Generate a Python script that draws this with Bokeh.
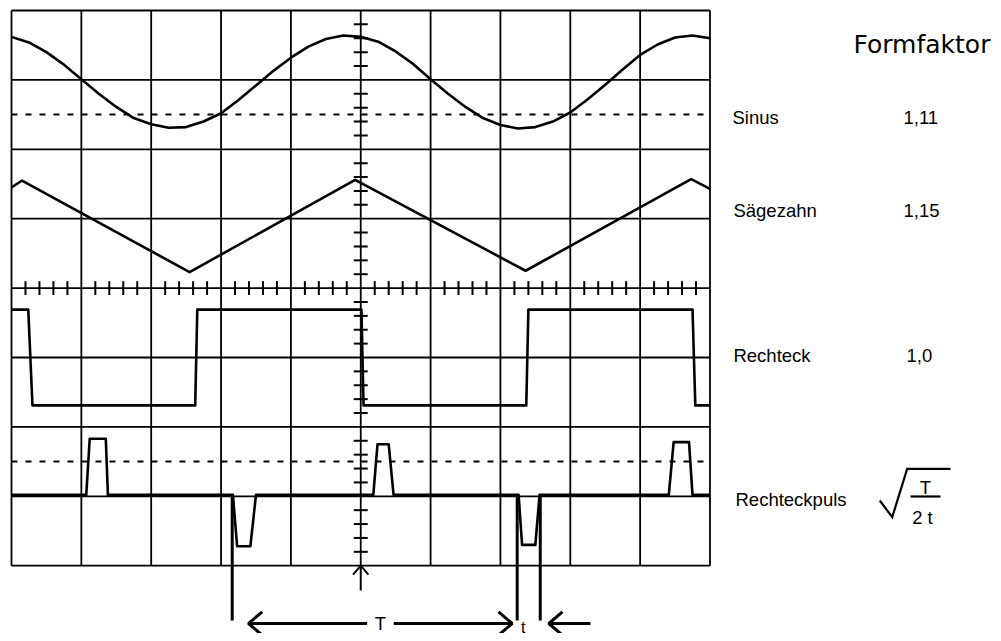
from bokeh.plotting import figure
from bokeh.models import Range1d, Label
from bokeh.embed import file_html
from bokeh.resources import INLINE

# ---------------- data (screen divisions) ----------------
sine_x = [0.0, 0.25, 0.5, 0.75, 1.0, 1.25, 1.5, 1.75, 2.0, 2.25, 2.5, 2.75, 3.0, 3.25,
          3.5, 3.75, 4.0, 4.25, 4.5, 4.75, 5.0, 5.25, 5.5, 5.75, 6.0, 6.25, 6.5, 6.75,
          7.0, 7.25, 7.5, 7.75, 8.0, 8.25, 8.5, 8.75, 9.0, 9.25, 9.5, 9.75, 10.0]
sine_y = [7.62, 7.54, 7.40, 7.22, 7.01, 6.80, 6.61, 6.45, 6.36, 6.31, 6.32, 6.40, 6.52, 6.71,
          6.92, 7.13, 7.32, 7.48, 7.59, 7.64, 7.62, 7.55, 7.41, 7.23, 7.01, 6.80, 6.61, 6.45,
          6.35, 6.30, 6.32, 6.40, 6.53, 6.72, 6.93, 7.15, 7.36, 7.51, 7.61, 7.64, 7.60]

saw_x = [0.0, 0.15, 2.55, 4.92, 7.36, 9.73, 10.0]
saw_y = [5.45, 5.55, 4.23, 5.56, 4.25, 5.57, 5.43]

rect_x = [0.0, 0.24, 0.30, 2.63, 2.66, 5.01, 5.04, 7.37, 7.40, 9.75, 9.79, 10.0]
rect_y = [3.69, 3.69, 2.31, 2.31, 3.69, 3.69, 2.31, 2.31, 3.69, 3.69, 2.31, 2.31]

puls_x = [0.0, 1.07, 1.12, 1.35, 1.38, 3.17, 3.23, 3.42, 3.50, 5.18, 5.24, 5.40, 5.47,
          7.26, 7.31, 7.50, 7.56, 9.41, 9.48, 9.70, 9.75, 10.0]
puls_y = [1.02, 1.02, 1.83, 1.83, 1.02, 1.02, 0.28, 0.28, 1.02, 1.02, 1.75, 1.75, 1.02,
          1.02, 0.30, 0.30, 1.02, 1.02, 1.78, 1.78, 1.02, 1.02]

dashed_levels = [6.5, 1.5]
marker_x = [3.16, 7.24, 7.57]

names = ["Sinus", "Sägezahn", "Rechteck", "Rechteckpuls"]
factors = ["1,11", "1,15", "1,0"]

# ---------------- figure ----------------
p = figure(width=993, height=633, output_backend="svg", toolbar_location=None,
           x_range=Range1d(-0.1575, 14.059), y_range=Range1d(-0.977, 8.144),
           x_axis_type=None, y_axis_type=None, min_border=0)
p.min_border_left = p.min_border_right = p.min_border_top = p.min_border_bottom = 0
p.outline_line_color = None
p.xgrid.visible = False
p.ygrid.visible = False
p.background_fill_color = "white"
p.border_fill_color = "white"

K = "black"

# screen grid 10 x 8
gx = list(range(11))
gy = list(range(9))
p.segment(x0=gx, y0=[0] * len(gx), x1=gx, y1=[8] * len(gx), line_color=K, line_width=1.8)
p.segment(x0=[0] * len(gy), y0=gy, x1=[10] * len(gy), y1=gy, line_color=K, line_width=1.8)

# center axes with minor ticks
tx = [k * 0.2 for k in range(1, 50) if k % 5 != 0]
ty = [k * 0.2 for k in range(1, 40) if k % 5 != 0]
p.segment(x0=tx, y0=[3.9] * len(tx), x1=tx, y1=[4.1] * len(tx), line_color=K, line_width=2)
p.segment(x0=[4.9] * len(ty), y0=ty, x1=[5.1] * len(ty), y1=ty, line_color=K, line_width=2)

# dashed reference lines
for lv in dashed_levels:
    p.line([0, 10], [lv, lv], line_color=K, line_width=2, line_dash="6 8")

# traces
for xs, ys in [(sine_x, sine_y), (saw_x, saw_y), (rect_x, rect_y), (puls_x, puls_y)]:
    p.line(xs, ys, line_color=K, line_width=2.6, line_join="round")

# measuring marker lines below the pulse train
p.segment(x0=marker_x, y0=[1.02] * 3, x1=marker_x, y1=[-0.79] * 3, line_color=K, line_width=3)

# T arrows
ay = -0.833
p.line([3.393, 5.092], [ay, ay], line_color=K, line_width=3)
p.line([3.589, 3.393, 3.589], [ay + 0.168, ay, ay - 0.168], line_color=K, line_width=3)
p.line([5.473, 7.168], [ay, ay], line_color=K, line_width=3)
p.line([6.972, 7.168, 6.972], [ay + 0.168, ay, ay - 0.168], line_color=K, line_width=3)
p.line([7.692, 8.289], [ay, ay], line_color=K, line_width=3)
p.line([7.888, 7.692, 7.888], [ay + 0.168, ay, ay - 0.168], line_color=K, line_width=3)

# trigger arrow at screen bottom centre
p.line([5.0, 5.0], [0.0, -0.357], line_color=K, line_width=2)
p.line([4.89, 5.0, 5.11], [-0.13, 0.0, -0.13], line_color=K, line_width=2)

FONT = "Liberation Sans"
SZ = "18.5px"

p.add_layout(Label(x=5.283, y=-0.837, text="T", text_font=FONT, text_font_size=SZ,
                   text_align="center", text_baseline="alphabetic", text_color=K))
p.add_layout(Label(x=7.326, y=-0.89, text="t", text_font=FONT, text_font_size="16px",
                   text_align="center", text_baseline="alphabetic", text_color=K))

# right-hand table
p.add_layout(Label(x=12.054, y=7.506, text="Formfaktor", text_font="DejaVu Sans",
                   text_font_size="25px", text_align="left", text_baseline="alphabetic",
                   text_color=K))

name_y = [6.4625, 5.118, 3.029, 0.950]
name_x = [10.322, 10.336, 10.336, 10.365]
for nm, xx, yy in zip(names, name_x, name_y):
    p.add_layout(Label(x=xx, y=yy, text=nm, text_font=FONT, text_font_size=SZ,
                       text_align="left", text_baseline="alphabetic", text_color=K))

fac_x = [12.770, 12.770, 12.813]
for fc, xx, yy in zip(factors, fac_x, name_y[:3]):
    p.add_layout(Label(x=xx, y=yy, text=fc, text_font=FONT, text_font_size=SZ,
                       text_align="left", text_baseline="alphabetic", text_color=K))

# sqrt(T / 2t)
p.line([12.431, 12.609, 12.823, 13.443], [0.939, 0.699, 1.396, 1.396],
       line_color=K, line_width=2.2, line_join="miter")
p.line([12.870, 13.300], [0.997, 0.997], line_color=K, line_width=2.2)
p.add_layout(Label(x=13.085, y=1.131, text="T", text_font=FONT, text_font_size=SZ,
                   text_align="center", text_baseline="alphabetic", text_color=K))
p.add_layout(Label(x=13.042, y=0.699, text="2 t", text_font=FONT, text_font_size=SZ,
                   text_align="center", text_baseline="alphabetic", text_color=K))

open("out.html", "w").write(file_html(p, INLINE))
